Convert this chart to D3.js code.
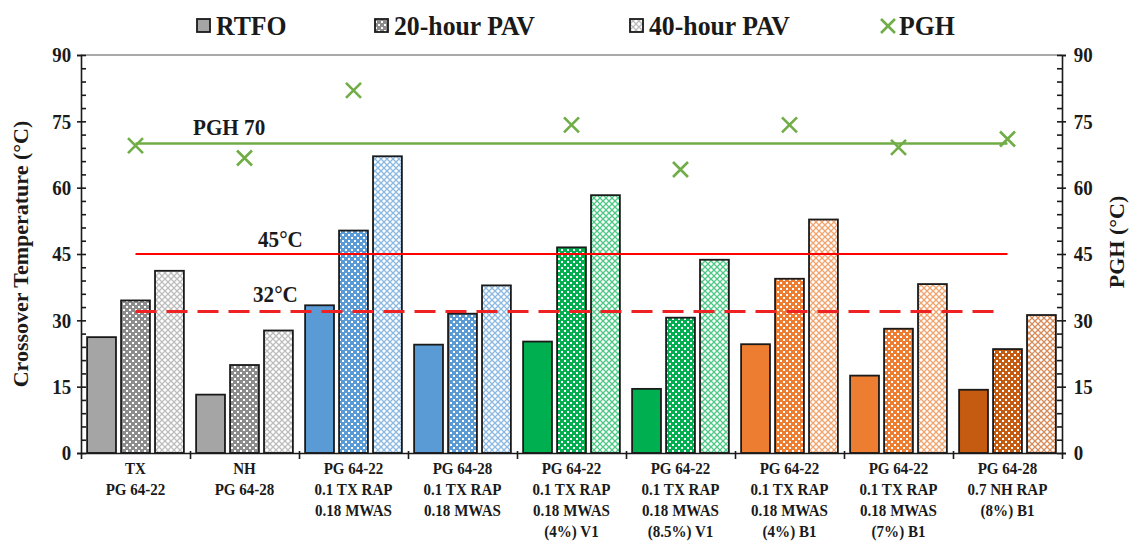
<!DOCTYPE html>
<html>
<head>
<meta charset="utf-8">
<script src="https://cdn.jsdelivr.net/npm/d3@7"></script>
<style>
    body { margin: 0; background: #fff; }
    svg text { font-family: "Liberation Serif", "Times New Roman", serif; font-weight: bold; fill: #1a1a1a; }
</style>
</head>
<body>
<div id="chart"></div>
<script>
// chart values
const categories = [
    ["TX", "PG 64-22"],
    ["NH", "PG 64-28"],
    ["PG 64-22", "0.1 TX RAP", "0.18 MWAS"],
    ["PG 64-28", "0.1 TX RAP", "0.18 MWAS"],
    ["PG 64-22", "0.1 TX RAP", "0.18 MWAS", "(4%) V1"],
    ["PG 64-22", "0.1 TX RAP", "0.18 MWAS", "(8.5%) V1"],
    ["PG 64-22", "0.1 TX RAP", "0.18 MWAS", "(4%) B1"],
    ["PG 64-22", "0.1 TX RAP", "0.18 MWAS", "(7%) B1"],
    ["PG 64-28", "0.7 NH RAP", "(8%) B1"]
];
const seriesNames = ["RTFO", "20-hour PAV", "40-hour PAV"];
const rtfo = [26.2, 13.2, 33.4, 24.5, 25.2, 14.5, 24.6, 17.5, 14.3];
const pav20 = [34.5, 19.9, 50.3, 31.5, 46.5, 30.6, 39.4, 28.1, 23.5];
const pav40 = [41.2, 27.7, 67.1, 37.9, 58.3, 43.7, 52.8, 38.2, 31.2];
const pgh = [69.5, 66.7, 82.0, null, 74.2, 64.1, 74.2, 69.1, 71.0];
const refValues = [70, 45, 32];
const refLabels = ["PGH 70", "45°C", "32°C"];
const yTicks = [0, 15, 30, 45, 60, 75, 90];
const groupColors = ["#a5a5a5", "#a5a5a5", "#5b9bd5", "#5b9bd5", "#00b050", "#00b050", "#ed7d31", "#ed7d31", "#c55a11"];

const svg = { width: 1132, height: 548, margin: { top: 55, right: 70, bottom: 95, left: 81 } };
const green = "#70ad47", red = "#ff0000";

const chart = d3.select("#chart").append("svg")
    .attr("width", svg.width)
    .attr("height", svg.height);

const x0 = svg.margin.left, x1 = svg.width - svg.margin.right;
const yBase = svg.height - svg.margin.bottom;

const xScale = d3.scaleBand().domain(d3.range(categories.length)).range([x0, x1]);
const subScale = d3.scaleBand().domain(seriesNames).range([0, xScale.bandwidth()])
    .paddingInner(0.15).paddingOuter(0.18);
const yScale = d3.scaleLinear().domain([0, 90]).range([yBase, svg.margin.top]);
const y2Scale = d3.scaleLinear().domain([0, 90]).range([yBase, svg.margin.top]);
const idxScale = d3.scaleLinear().domain([0, categories.length]).range([x0, x1]);

// patterns
const defs = chart.append("defs");
const uniqColors = Array.from(new Set(groupColors));
const darkOf = c => c === "#a5a5a5" ? "#8c8c8c" : c;
const lightOf = c => c === "#a5a5a5" ? "#bdbdbd" : d3.interpolateRgb(c, "#fff")(0.3);
uniqColors.forEach((c, i) => {
    const p20 = defs.append("pattern").attr("id", "p20-" + i)
        .attr("patternUnits", "userSpaceOnUse").attr("width", 6).attr("height", 6);
    p20.append("rect").attr("width", 6).attr("height", 6).attr("fill", darkOf(c));
    p20.append("rect").attr("x", 0).attr("y", 0).attr("width", 2).attr("height", 2).attr("fill", "#fff");
    p20.append("rect").attr("x", 3).attr("y", 3).attr("width", 2).attr("height", 2).attr("fill", "#fff");

    const p40 = defs.append("pattern").attr("id", "p40-" + i)
        .attr("patternUnits", "userSpaceOnUse").attr("width", 6).attr("height", 6);
    p40.append("rect").attr("width", 6).attr("height", 6).attr("fill", "#fff");
    p40.append("path").attr("d", "M0,0L6,6M6,0L0,6").attr("stroke", lightOf(c)).attr("stroke-width", 1.3);
});
const fillFor = (k, c) => {
    const i = uniqColors.indexOf(c);
    return k === 0 ? c : k === 1 ? `url(#p20-${i})` : `url(#p40-${i})`;
};

// plot border (top)
chart.append("line")
    .attr("x1", x0).attr("x2", x1)
    .attr("y1", svg.margin.top).attr("y2", svg.margin.top)
    .attr("stroke", "#555").attr("stroke-width", 1);

// bars
const barData = [];
categories.forEach((cat, i) => {
    [rtfo, pav20, pav40].forEach((vals, k) => {
        barData.push({ i, k, v: vals[i], c: groupColors[i] });
    });
});

chart.append("g").attr("class", "bars")
    .selectAll("rect")
    .data(barData)
    .join("rect")
    .attr("x", d => xScale(d.i) + subScale(seriesNames[d.k]))
    .attr("y", d => yScale(d.v))
    .attr("width", subScale.bandwidth())
    .attr("height", d => yScale(0) - yScale(d.v))
    .attr("fill", d => fillFor(d.k, d.c))
    .attr("stroke", "#1a1a1a")
    .attr("stroke-width", 1.8);

// reference lines
const lineStart = xScale(0) + xScale.bandwidth() / 2;
const lineEnd = xScale(categories.length - 1) + xScale.bandwidth() / 2;
const refStyles = [
    { color: green, width: 2.5, dash: null, labelX: 193, dy: -8 },
    { color: red, width: 2.2, dash: null, labelX: 258, dy: -7 },
    { color: "#ee2222", width: 3.2, dash: "21,10", labelX: 253, dy: -9 }
];
refValues.forEach((v, i) => {
    const s = refStyles[i];
    const sc = i === 0 ? y2Scale : yScale;
    chart.append("line")
        .attr("x1", lineStart).attr("x2", i === 2 ? lineEnd - 10 : lineEnd)
        .attr("y1", sc(v)).attr("y2", sc(v))
        .attr("stroke", s.color)
        .attr("stroke-width", s.width)
        .attr("stroke-dasharray", s.dash);
    chart.append("text")
        .attr("transform", `translate(${s.labelX},${sc(v) + s.dy}) scale(0.92,1)`)
        .attr("font-size", 23)
        .text(refLabels[i]);
});

// PGH markers
const xMark = (sel, size) => sel.append("path")
    .attr("d", `M${-size},${-size}L${size},${size}M${size},${-size}L${-size},${size}`)
    .attr("stroke", green).attr("stroke-width", 2.6).attr("fill", "none");
chart.append("g").attr("class", "pgh")
    .selectAll("g")
    .data(pgh.map((v, i) => ({ v, i })).filter(d => d.v !== null))
    .join("g")
    .attr("transform", d => `translate(${xScale(d.i) + xScale.bandwidth() / 2},${y2Scale(d.v)})`)
    .each(function () { xMark(d3.select(this), 7.5); });

// axes
const yAxis = chart.append("g").attr("transform", `translate(${x0},0)`)
    .call(d3.axisLeft(yScale).tickValues(yTicks).tickSize(4).tickPadding(7));
chart.append("g").attr("transform", `translate(${x0},0)`)
    .call(d3.axisLeft(yScale).tickValues(d3.range(0, 91, 3)).tickSize(-5).tickFormat(""))
    .select(".domain").remove();

const y2Axis = chart.append("g").attr("transform", `translate(${x1},0)`)
    .call(d3.axisRight(y2Scale).tickValues(yTicks).tickSize(4).tickPadding(9));
chart.append("g").attr("transform", `translate(${x1},0)`)
    .call(d3.axisRight(y2Scale).tickValues(d3.range(0, 91, 3)).tickSize(-5).tickFormat(""))
    .select(".domain").remove();

const xAxis = chart.append("g").attr("transform", `translate(0,${yBase})`)
    .call(d3.axisBottom(idxScale).tickValues(d3.range(1, categories.length)).tickSize(6).tickFormat(""));
xAxis.selectAll(".tick line").attr("y1", -2);

[yAxis, y2Axis].forEach(a => a.selectAll("text")
    .attr("font-size", 21)
    .attr("transform", "scale(0.9,1)")
    .style("font-family", null));
chart.selectAll(".domain, .tick line").attr("stroke", "#1a1a1a").attr("stroke-width", 1.6);
chart.selectAll(".tick text").attr("fill", "#1a1a1a");

// category labels
chart.append("g").attr("class", "xlabels")
    .selectAll("text")
    .data(categories)
    .join("text")
    .attr("text-anchor", "middle")
    .attr("font-size", 17.5)
    .attr("transform", (d, i) => `translate(${xScale(i) + xScale.bandwidth() / 2},${yBase + 21}) scale(0.86,1)`)
    .each(function (lines) {
        d3.select(this).selectAll("tspan")
            .data(lines)
            .join("tspan")
            .attr("x", 0)
            .attr("y", (l, j) => j * 21)
            .text(l => l);
    });

// axis titles
chart.append("text")
    .attr("transform", `translate(28,${(yBase + svg.margin.top) / 2}) rotate(-90)`)
    .attr("text-anchor", "middle")
    .attr("font-size", 22)
    .text("Crossover Temperature (°C)");
chart.append("text")
    .attr("transform", `translate(1124,${(yBase + svg.margin.top) / 2 - 12}) rotate(-90)`)
    .attr("text-anchor", "middle")
    .attr("font-size", 22)
    .text("PGH (°C)");

// legend
const legendX = [197, 375, 630, 880];
const legend = chart.append("g").attr("class", "legend");
seriesNames.forEach((name, k) => {
    legend.append("rect")
        .attr("x", legendX[k]).attr("y", 19)
        .attr("width", 13).attr("height", 13)
        .attr("fill", fillFor(k, "#a5a5a5"))
        .attr("stroke", "#1a1a1a").attr("stroke-width", 1.8);
    legend.append("text")
        .attr("transform", `translate(${legendX[k] + 19},35) scale(0.92,1)`)
        .attr("font-size", 28)
        .text(name);
});
const pghLegend = legend.append("g").attr("transform", `translate(${legendX[3] + 8},26)`);
xMark(pghLegend, 7);
legend.append("text")
    .attr("transform", `translate(${legendX[3] + 19},35) scale(0.92,1)`)
    .attr("font-size", 28)
    .text("PGH");
</script>
</body>
</html>
